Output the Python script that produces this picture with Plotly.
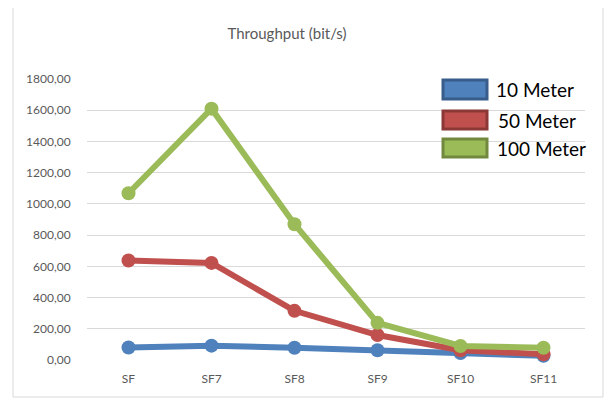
import plotly.graph_objects as go

categories = ["SF", "SF7", "SF8", "SF9", "SF10", "SF11"]
series_names = ["10 Meter", "50 Meter", "100 Meter"]
m10 = [80, 92, 78, 62, 45, 27]
m50 = [637, 622, 315, 160, 62, 37]
m100 = [1068, 1610, 870, 238, 90, 78]
y_ticks = [0, 200, 400, 600, 800, 1000, 1200, 1400, 1600, 1800]
y_tick_labels = ["0,00", "200,00", "400,00", "600,00", "800,00", "1000,00",
                 "1200,00", "1400,00", "1600,00", "1800,00"]

colors = ["#4F81BD", "#C0504D", "#9BBB59"]
borders = ["#385D8A", "#8C3836", "#71893F"]

fig = go.Figure()
for name, vals, c in zip(series_names, [m10, m50, m100], colors):
    fig.add_trace(go.Scatter(
        x=categories, y=vals, name=name, mode="lines+markers",
        line=dict(color=c, width=6), marker=dict(color=c, size=14),
        cliponaxis=False, showlegend=False))

# page has an 8px body margin; work in window pixels and offset
OFF = 8
W, H = 613 - OFF, 398 - OFF
L, R, T, B = 87 - OFF, 28, 79 - OFF, 38
pw, ph = W - L - R, H - T - B

def px(x):
    return (x - OFF - L) / pw

def py(y):
    return (H - B - (y - OFF)) / ph

shapes = [dict(type="rect", xref="paper", yref="paper",
               x0=px(13), x1=px(603), y0=py(397), y1=py(0),
               line=dict(color="#D9D9D9", width=1), layer="below")]
annotations = []
leg_y = [(80, 99), (111, 129), (139, 157)]
text_x = [494, 496, 495]
for (y0, y1), c, bc, name, tx in zip(leg_y, colors, borders, series_names, text_x):
    shapes.append(dict(type="rect", xref="paper", yref="paper",
                       x0=px(443), x1=px(487), y0=py(y1), y1=py(y0),
                       fillcolor=c, line=dict(color=bc, width=3)))
    annotations.append(dict(xref="paper", yref="paper", x=px(tx), y=py((y0 + y1) / 2),
                            text=name, showarrow=False, xanchor="left", yanchor="middle",
                            font=dict(size=19, color="#000000", family="Lato, Open Sans, sans-serif")))

fig.update_layout(
    width=W, height=H,
    margin=dict(l=L, r=R, t=T, b=B),
    paper_bgcolor="white", plot_bgcolor="white",
    font=dict(family="Lato, Open Sans, sans-serif", color="#595959", size=12),
    title=dict(text="Throughput (bit/s)", x=px(287), xref="paper", xanchor="center",
               y=1 - (34 - OFF) / H, yanchor="middle", font=dict(size=15, color="#595959")),
    xaxis=dict(type="category", range=[-0.5, len(categories) - 0.5],
               showgrid=False, zeroline=False, showline=False,
               ticks="outside", ticklen=8, tickcolor="rgba(0,0,0,0)",
               tickfont=dict(size=12, color="#595959")),
    yaxis=dict(range=[0, 1800], tickvals=y_ticks, ticktext=y_tick_labels,
               showgrid=True, gridcolor="#D9D9D9", gridwidth=1, zeroline=False,
               showline=False, ticks="outside", ticklen=13, tickcolor="rgba(0,0,0,0)",
               tickfont=dict(size=12, color="#595959")),
    shapes=shapes, annotations=annotations,
)

fig.write_html("out.html")
